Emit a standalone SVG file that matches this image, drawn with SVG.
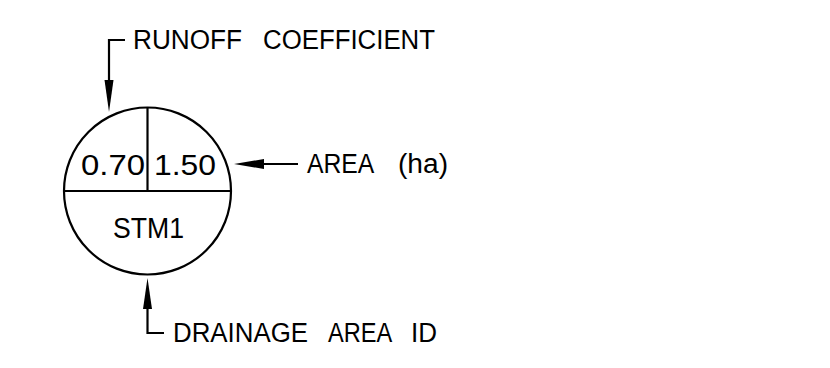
<svg xmlns="http://www.w3.org/2000/svg" width="830" height="368" viewBox="0 0 830 368">
  <style>
    .ln { fill: none; stroke: #000; stroke-width: 2.2; }
    .ah { fill: #000; stroke: none; }
    .t { font-family: "Liberation Sans", Arial, sans-serif; fill: #000; }
    .lbl { font-size: 27px; }
    .num { font-size: 29px; }
  </style>
  <rect x="0" y="0" width="830" height="368" fill="#fff"/>

  <g id="symbol">
    <circle class="ln" cx="147.5" cy="191" r="83.5"/>
    <line class="ln" x1="64" y1="191" x2="231" y2="191"/>
    <line class="ln" x1="147.5" y1="107.5" x2="147.5" y2="191"/>
    <text class="t num" x="81" y="175" textLength="64" lengthAdjust="spacingAndGlyphs">0.70</text>
    <text class="t num" x="154" y="175" textLength="62" lengthAdjust="spacingAndGlyphs">1.50</text>
    <text class="t num" x="113" y="238" textLength="71" lengthAdjust="spacingAndGlyphs">STM1</text>
  </g>

  <g id="label-runoff">
    <text class="t lbl" y="49"><tspan x="133" textLength="109" lengthAdjust="spacingAndGlyphs">RUNOFF</tspan> <tspan x="263" textLength="172" lengthAdjust="spacingAndGlyphs">COEFFICIENT</tspan></text>
  </g>

  <g id="label-area">
    <text class="t lbl" y="173"><tspan x="307" textLength="66" lengthAdjust="spacingAndGlyphs">AREA</tspan> <tspan x="398" textLength="50" lengthAdjust="spacingAndGlyphs">(ha)</tspan></text>
  </g>

  <g id="label-id">
    <text class="t lbl" y="342"><tspan x="173" textLength="135" lengthAdjust="spacingAndGlyphs">DRAINAGE</tspan> <tspan x="328" textLength="63" lengthAdjust="spacingAndGlyphs">AREA</tspan> <tspan x="411" textLength="26" lengthAdjust="spacingAndGlyphs">ID</tspan></text>
  </g>

  <g id="connectors">
    <polyline class="ln" points="125,40 109,40 109,82"/>
    <polygon class="ah" points="109,112 104.5,80 113.5,80"/>
    <line class="ln" x1="298" y1="164" x2="262" y2="164"/>
    <polygon class="ah" points="234,164 264,159 264,169"/>
    <polyline class="ln" points="147.5,306 147.5,333 164,333"/>
    <polygon class="ah" points="147.5,278 143,309 152,309"/>
  </g>
</svg>
